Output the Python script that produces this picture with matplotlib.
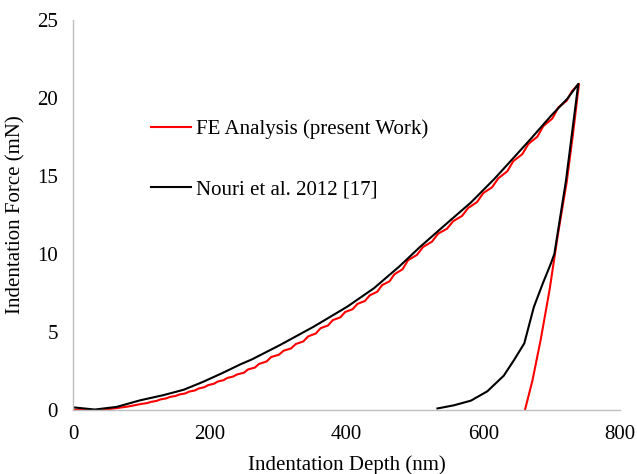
import matplotlib.pyplot as plt

plt.rcParams['font.family'] = ['Liberation Serif', 'DejaVu Serif']
plt.rcParams['font.size'] = 15

# FE analysis (present work): loading with small steps, then unloading
fe_depth = [0, 20, 40, 60, 80, 100, 108, 114, 122, 128, 136, 142, 150, 156, 164, 170,
            178, 184, 192, 198, 206, 212, 220, 226, 234, 240, 250, 256, 266, 272, 283,
            290, 301, 308, 319, 326, 337, 344, 355, 362, 373, 380, 391, 398, 409, 416,
            427, 434, 445, 452, 463, 470, 482, 490, 503, 512, 525, 534, 547, 556, 569,
            578, 591, 600, 613, 622, 635, 644, 657, 666, 679, 688, 701, 710, 722, 730,
            740, 731, 722, 709, 697, 684, 672, 661]
fe_force = [0, 0, 0, 0.1, 0.22, 0.39, 0.44, 0.52, 0.58, 0.68, 0.74, 0.84, 0.90, 1.0, 1.06,
            1.18, 1.25, 1.38, 1.46, 1.6, 1.68, 1.83, 1.91, 2.06, 2.14, 2.28, 2.39, 2.6,
            2.72, 2.95, 3.11, 3.4, 3.54, 3.8, 3.95, 4.23, 4.4, 4.72, 4.9, 5.24, 5.42,
            5.76, 5.94, 6.28, 6.46, 6.8, 6.99, 7.35, 7.58, 8.0, 8.25, 8.7, 9.02, 9.6, 9.94,
            10.45, 10.79, 11.3, 11.62, 12.1, 12.44, 12.95, 13.33, 13.9, 14.28, 14.85,
            15.29, 15.95, 16.39, 17.05, 17.51, 18.2, 18.68, 19.4, 19.82, 20.45,
            20.9, 17.6, 14.6, 11.2, 7.7, 4.5, 1.9, 0]

# Nouri et al. 2012 [17]
nouri_depth = [0, 32, 64, 98, 132, 162, 191, 220, 245, 262, 303, 352, 401, 440, 477, 508,
               547, 582, 616, 640, 670, 699, 723, 739,
               721, 704, 699, 687, 674, 660, 645, 630, 606, 582, 557, 533]
nouri_force = [0.17, 0.03, 0.2, 0.62, 0.95, 1.3, 1.82, 2.4, 2.93, 3.25, 4.17, 5.34, 6.62,
               7.8, 9.19, 10.47, 11.97, 13.3, 14.8, 15.95, 17.4, 18.85, 19.95, 20.9,
               14.7, 10.0, 9.4, 8.1, 6.6, 4.27, 3.2, 2.2, 1.2, 0.6, 0.3, 0.1]

fig = plt.figure(figsize=(6.37, 4.74), dpi=100)
ax = fig.add_axes([0.1146, 0.135, 0.8587, 0.823])

ax.plot(fe_depth, fe_force, color='#ff0000', lw=1.5, label='FE Analysis (present Work)')
ax.plot(nouri_depth, nouri_force, color='black', lw=1.5, label='Nouri et al. 2012 [17]')

ax.set_xlim(0, 800)
ax.set_ylim(0, 25)
ax.set_xticks([0, 200, 400, 600, 800])
ax.set_yticks([0, 5, 10, 15, 20, 25])
ax.tick_params(length=0, pad=11, labelsize=15)
for s in ['top', 'right']:
    ax.spines[s].set_visible(False)
for s in ['left', 'bottom']:
    ax.spines[s].set_color('#bfbfbf')
    ax.spines[s].set_linewidth(1)

ax.set_xlabel('Indentation Depth (nm)', fontsize=15, labelpad=8)
ax.set_ylabel('Indentation Force (mN)', fontsize=15, labelpad=8)

ax.legend(loc='upper left', bbox_to_anchor=(0.1426, 0.745), frameon=False,
          borderpad=0, borderaxespad=0, handlelength=1.9, handletextpad=0.25,
          labelspacing=1.95, fontsize=15)

fig.savefig('out.png', dpi=100)
